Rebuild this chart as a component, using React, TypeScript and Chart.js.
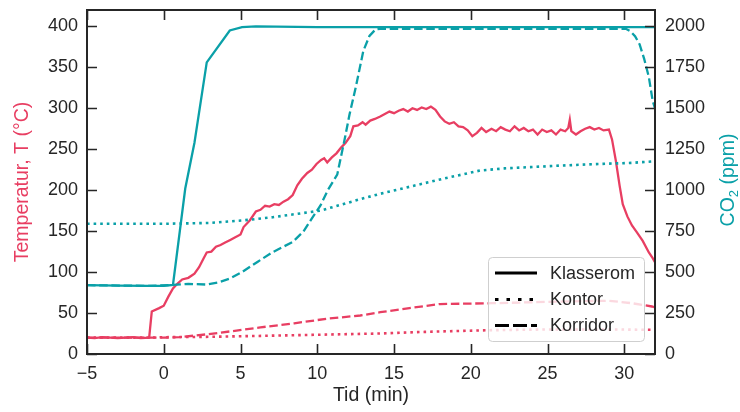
import React, { useEffect, useRef } from 'react';
import { Chart, registerables } from 'chart.js';

Chart.register(...registerables);

const RED = '#E83E62';
const TEAL = '#0AA0A8';
const INK = '#262626';
const FONT = "'Liberation Sans', Arial, Helvetica, sans-serif";

// Tick labels
const xTicks = [-5, 0, 5, 10, 15, 20, 25, 30];
const tempTicks = [0, 50, 100, 150, 200, 250, 300, 350, 400];
const co2Ticks = [0, 250, 500, 750, 1000, 1250, 1500, 1750, 2000];
const legendLabels = ['Klasserom', 'Kontor', 'Korridor'];

// Series: [time (min), value]
const tempKlasserom: [number, number][] = [
  [-5, 20], [-4.5, 19.5], [-4, 20.5], [-3.5, 20], [-3, 19.5], [-2.5, 20], [-2, 20.5], [-1.5, 19.5], [-0.95, 20],
  [-0.78, 52], [-0.3, 56], [0.0, 59], [0.3, 70], [0.6, 80], [0.9, 86], [1.2, 91], [1.6, 93], [2.0, 98],
  [2.3, 106], [2.6, 117], [2.8, 124], [3.1, 125], [3.4, 131], [3.7, 133], [4.0, 136], [4.3, 139], [4.6, 142],
  [5.0, 146], [5.2, 155], [5.6, 163], [6.0, 174], [6.3, 176], [6.6, 181], [6.9, 180], [7.2, 183], [7.5, 182],
  [7.8, 186], [8.1, 189], [8.4, 194], [8.7, 206], [9.0, 214], [9.35, 221], [9.65, 225], [9.95, 232],
  [10.25, 237], [10.45, 239], [10.65, 234], [10.95, 240], [11.25, 245], [11.55, 252], [11.85, 258],
  [12.15, 266], [12.35, 278], [12.65, 279], [12.95, 283], [13.15, 280], [13.45, 285], [13.75, 287],
  [14.1, 290], [14.4, 293], [14.7, 296], [15.0, 294], [15.3, 297], [15.6, 299], [15.9, 296], [16.2, 300],
  [16.5, 298], [16.8, 301], [17.1, 299], [17.4, 302], [17.7, 298], [18.0, 290], [18.3, 284], [18.6, 281],
  [18.9, 283], [19.2, 278], [19.5, 277], [19.8, 273], [20.1, 266], [20.4, 270], [20.7, 276], [21.0, 271],
  [21.35, 275], [21.65, 272], [21.95, 277], [22.25, 274], [22.55, 272], [22.85, 278], [23.15, 273],
  [23.45, 276], [23.75, 272], [24.05, 274], [24.35, 268], [24.65, 274], [24.95, 271], [25.25, 273],
  [25.55, 268], [25.85, 274], [26.15, 272], [26.35, 276], [26.45, 286], [26.55, 272], [26.85, 268],
  [27.15, 272], [27.45, 275], [27.75, 277], [28.05, 274], [28.35, 276], [28.65, 273], [29.0, 274],
  [29.2, 262], [29.45, 236], [29.7, 205], [29.9, 183], [30.2, 168], [30.5, 157], [30.8, 149], [31.2, 138],
  [31.6, 124], [31.85, 117], [32, 112],
];
const tempKontor: [number, number][] = [
  [-5, 20], [-1, 20], [0, 20.5], [3, 21], [6, 22], [10, 23.5], [14, 25], [17, 27], [21, 29], [25, 30], [29, 30], [32, 29.5],
];
const tempKorridor: [number, number][] = [
  [-5, 20], [0, 20], [1, 20.5], [2.8, 24], [4.5, 28], [6.3, 32.5], [8.5, 37.5], [10.6, 43], [12.8, 47],
  [14.1, 51], [16, 56], [18, 61], [21.4, 62], [25.8, 64], [29, 65], [30.5, 62], [31.8, 58], [32, 57],
];
const co2Klasserom: [number, number][] = [
  [-5, 420], [-3, 418], [-1, 416], [0, 416], [0.6, 422], [1.4, 1010], [2.0, 1290], [2.8, 1780], [4.3, 1975],
  [5.1, 1995], [6, 2000], [10, 1995], [20, 1995], [32, 1995],
];
const co2Kontor: [number, number][] = [
  [-5, 795], [0, 795], [3, 800], [5.1, 815], [7.1, 835], [10.2, 875], [12.8, 945], [14.1, 978], [16.2, 1025],
  [18.2, 1070], [20.6, 1120], [22.2, 1133], [25.8, 1150], [28.3, 1160], [30.3, 1166], [31.8, 1175], [32, 1185],
];
const co2Korridor: [number, number][] = [
  [-5, 420], [-1, 416], [0.6, 422], [1.6, 428], [2.8, 424], [3.6, 438], [4.3, 460], [5.1, 500], [6.1, 562],
  [7.1, 622], [8.4, 684], [9.1, 748], [9.65, 828], [10.2, 905], [10.7, 1003], [11.3, 1095], [11.8, 1318],
  [12.1, 1462], [12.5, 1625], [13.0, 1850], [13.4, 1942], [13.8, 1982], [14.1, 1985], [30.1, 1985],
  [30.4, 1970], [30.7, 1940], [31.0, 1890], [31.3, 1800], [31.6, 1690], [31.85, 1545], [32, 1500],
];

const DOTTED = [2.6, 4.0];
const DASHED = [8.5, 3.7];
const TL = 10;

const toXY = (arr: [number, number][]) => arr.map(([x, y]) => ({ x, y }));

const zeroPad = (s: any) => {
  s.paddingTop = 0;
  s.paddingBottom = 0;
  s.paddingLeft = 0;
  s.paddingRight = 0;
};

const decorPlugin = {
  id: 'decor',
  afterDatasetsDraw(chart: any) {
    const { ctx, chartArea, scales } = chart;
    const { left, right, top, bottom } = chartArea;
    ctx.save();
    // frame
    ctx.strokeStyle = INK;
    ctx.lineWidth = 2;
    ctx.setLineDash([]);
    ctx.strokeRect(left, top, right - left, bottom - top);
    // inward ticks
    ctx.lineWidth = 1.6;
    ctx.beginPath();
    xTicks.forEach((v) => {
      const px = Math.round(scales.x.getPixelForValue(v)) + 0.5;
      ctx.moveTo(px, bottom); ctx.lineTo(px, bottom - TL);
      ctx.moveTo(px, top); ctx.lineTo(px, top + TL);
    });
    tempTicks.forEach((v) => {
      const py = Math.round(scales.y.getPixelForValue(v)) + 0.5;
      ctx.moveTo(left, py); ctx.lineTo(left + TL, py);
    });
    co2Ticks.forEach((v) => {
      const py = Math.round(scales.y1.getPixelForValue(v)) + 0.5;
      ctx.moveTo(right, py); ctx.lineTo(right - TL, py);
    });
    ctx.stroke();

    // legend
    const bx = 488.5, by = 257.5, bw = 156, bh = 84;
    ctx.beginPath();
    if (ctx.roundRect) ctx.roundRect(bx, by, bw, bh, 4); else ctx.rect(bx, by, bw, bh);
    ctx.fillStyle = 'rgba(255,255,255,0.8)';
    ctx.fill();
    ctx.strokeStyle = '#cfcfcf';
    ctx.lineWidth = 1;
    ctx.stroke();
    const rows = [273, 299.5, 325.5];
    const dashes = [[], [3.5, 8], [14, 4]];
    legendLabels.forEach((lab, i) => {
      ctx.setLineDash(dashes[i]);
      ctx.strokeStyle = '#000';
      ctx.lineWidth = 3.2;
      ctx.beginPath();
      ctx.moveTo(495, rows[i]);
      ctx.lineTo(537, rows[i]);
      ctx.stroke();
      ctx.setLineDash([]);
      ctx.fillStyle = INK;
      ctx.font = `18px ${FONT}`;
      ctx.textBaseline = 'middle';
      ctx.textAlign = 'left';
      ctx.fillText(lab, 550, rows[i] + 1);
    });

    // right axis title: CO₂ (ppm), reading bottom to top
    ctx.translate(729, (top + bottom) / 2 - 2);
    ctx.rotate(-Math.PI / 2);
    ctx.fillStyle = TEAL;
    ctx.textBaseline = 'middle';
    ctx.textAlign = 'left';
    const big = `19.5px ${FONT}`;
    const small = `13px ${FONT}`;
    ctx.font = big;
    const w1 = ctx.measureText('CO').width;
    const w3 = ctx.measureText(' (ppm)').width;
    ctx.font = small;
    const w2 = ctx.measureText('2').width;
    const total = w1 + w2 + w3;
    let x0 = -total / 2;
    ctx.font = big;
    ctx.fillText('CO', x0, 0);
    x0 += w1;
    ctx.font = small;
    ctx.fillText('2', x0, 5);
    x0 += w2;
    ctx.font = big;
    ctx.fillText(' (ppm)', x0, 0);
    ctx.restore();
  },
};

export default function App() {
  const canvasRef = useRef<HTMLCanvasElement | null>(null);

  useEffect(() => {
    document.body.style.margin = '0';
    const canvas = canvasRef.current;
    if (!canvas) return;
    Chart.defaults.font.family = FONT;

    const base = { pointRadius: 0, pointHoverRadius: 0, borderWidth: 2.3, tension: 0, fill: false };
    const dotted = { borderWidth: 2.6, borderDash: DOTTED };
    const chart = new Chart(canvas, {
      type: 'line',
      data: {
        datasets: [
          { ...base, ...dotted, label: 'CO2 Kontor', data: toXY(co2Kontor), borderColor: TEAL, yAxisID: 'y1' },
          { ...base, label: 'CO2 Korridor', data: toXY(co2Korridor), borderColor: TEAL, borderDash: DASHED, yAxisID: 'y1' },
          { ...base, label: 'CO2 Klasserom', data: toXY(co2Klasserom), borderColor: TEAL, yAxisID: 'y1' },
          { ...base, ...dotted, label: 'T Kontor', data: toXY(tempKontor), borderColor: RED, yAxisID: 'y' },
          { ...base, label: 'T Korridor', data: toXY(tempKorridor), borderColor: RED, borderDash: DASHED, yAxisID: 'y' },
          { ...base, label: 'T Klasserom', data: toXY(tempKlasserom), borderColor: RED, yAxisID: 'y' },
        ],
      },
      options: {
        responsive: false,
        animation: false,
        devicePixelRatio: 1,
        layout: { padding: { top: 10, left: 0, right: 0, bottom: 0 } },
        plugins: { legend: { display: false }, tooltip: { enabled: false } },
        scales: {
          x: {
            type: 'linear',
            position: 'bottom',
            min: -5,
            max: 32,
            grid: { display: false, drawTicks: false },
            border: { display: false },
            afterBuildTicks: (s: any) => { s.ticks = xTicks.map((v) => ({ value: v })); },
            afterFit: (s: any) => { s.height = 58; zeroPad(s); },
            ticks: {
              color: INK,
              font: { size: 18 },
              padding: 9,
              maxRotation: 0,
              autoSkip: false,
              callback: (v: any) => String(v).replace('-', '\u2212'),
            },
            title: {
              display: true,
              text: 'Tid (min)',
              color: INK,
              font: { size: 19.5 },
              padding: { top: 0, bottom: 4.3 },
            },
          },
          y: {
            type: 'linear',
            position: 'left',
            min: 0,
            max: 420,
            grid: { display: false, drawTicks: false },
            border: { display: false },
            afterBuildTicks: (s: any) => { s.ticks = tempTicks.map((v) => ({ value: v })); },
            afterFit: (s: any) => { s.width = 87; zeroPad(s); },
            ticks: { color: INK, font: { size: 18 }, padding: 9, autoSkip: false, callback: (v: any) => String(v) },
            title: {
              display: true,
              text: 'Temperatur, T (°C)',
              color: RED,
              font: { size: 19.5 },
              padding: { top: 11.3, bottom: 0 },
            },
          },
          y1: {
            type: 'linear',
            position: 'right',
            min: 0,
            max: 2100,
            grid: { display: false, drawTicks: false },
            border: { display: false },
            afterBuildTicks: (s: any) => { s.ticks = co2Ticks.map((v) => ({ value: v })); },
            afterFit: (s: any) => { s.width = 85; zeroPad(s); },
            ticks: { color: INK, font: { size: 18 }, padding: 10, autoSkip: false, callback: (v: any) => String(v) },
          },
        },
      },
      plugins: [decorPlugin],
    } as any);

    return () => chart.destroy();
  }, []);

  return (
    <div style={{ width: 740, height: 412 }}>
      <canvas ref={canvasRef} width={740} height={412} style={{ display: 'block' }} />
    </div>
  );
}
